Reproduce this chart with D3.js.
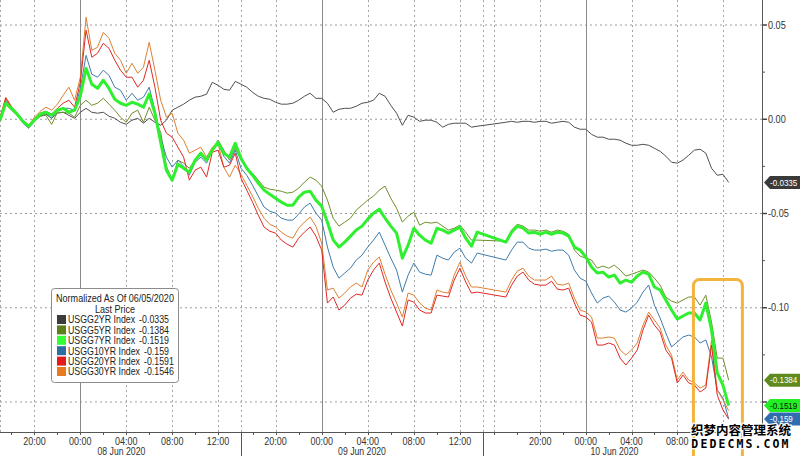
<!DOCTYPE html>
<html><head><meta charset="utf-8">
<script src="https://cdn.jsdelivr.net/npm/d3@7"></script>
<style>
body{margin:0;background:#fff;}
svg{display:block;}
text{font-family:"Liberation Sans",Arial,sans-serif;}
</style></head><body>
<svg id="c" width="800" height="456"></svg>
<script>
// ---- data ----
const sessions = [["2020-06-07T17:00Z","2020-06-08T13:30Z"],["2020-06-08T17:00Z","2020-06-09T13:30Z"],["2020-06-09T17:00Z","2020-06-10T12:30Z"]];
const axisBreaks = ["2020-06-07T17:00Z","2020-06-08T14:00Z","2020-06-08T17:00Z","2020-06-09T14:00Z","2020-06-09T15:00Z","2020-06-10T15:25Z"];
const xTickTimes = ["2020-06-07T20:00Z","2020-06-08T00:00Z","2020-06-08T04:00Z","2020-06-08T08:00Z","2020-06-08T12:00Z","2020-06-08T20:00Z","2020-06-09T00:00Z","2020-06-09T04:00Z","2020-06-09T08:00Z","2020-06-09T12:00Z","2020-06-09T20:00Z","2020-06-10T00:00Z","2020-06-10T04:00Z","2020-06-10T08:00Z"];
const xExtraGrid = ["2020-06-07T17:00Z","2020-06-08T14:00Z","2020-06-09T14:00Z","2020-06-09T16:00Z","2020-06-10T12:00Z"];
const dateLabels = [["2020-06-08T03:35Z","08 Jun 2020"],["2020-06-09T03:30Z","09 Jun 2020"],["2020-06-10T02:30Z","10 Jun 2020"]];
const yTicks = [0.05, 0.00, -0.05, -0.10, -0.15];
const yTickLabels = ["0.05","0.00","-0.05","-0.10"];
const yMinorTicks = [0.025, -0.025, -0.075, -0.125];
const seriesNames = ["USGG2YR Index","USGG5YR Index","USGG7YR Index","USGG10YR Index","USGG20YR Index","USGG30YR Index"];
const legendTitle = ["Normalized As Of 06/05/2020","Last Price"];
const highlightWindow = ["2020-06-10T09:25Z","2020-06-10T13:42Z"];
const highlightTop = -0.085;
const watermark = ["织梦内容管理系统","DEDECMS.COM"];

const usgg2 = [
-0.0005,0.0080,0.0053,0.0021,-0.0016,-0.0037,-0.0011,0.0016,0.0027,0.0005,0.0032,0.0037,0.0021,0.0005,0.0037,0.0058,0.0037,0.0032,0.0037,0.0016,0.0005,-0.0016,-0.0027,-0.0005,0.0005,-0.0021,0.0005,-0.0016,-0.0032,-0.0005,0.0048,0.0064,0.0080,0.0101,0.0117,0.0122,0.0133,0.0196,0.0180,0.0159,0.0154,0.0201,
0.0186,0.0170,0.0143,0.0122,0.0111,0.0106,0.0090,0.0080,0.0080,0.0085,0.0101,0.0122,0.0138,0.0111,0.0111,0.0085,0.0037,0.0053,0.0058,0.0058,0.0069,0.0085,0.0090,0.0101,0.0138,0.0122,0.0074,0.0032,-0.0032,0.0021,0.0011,-0.0011,-0.0005,-0.0005,-0.0016,-0.0042,-0.0027,-0.0021,-0.0021,-0.0021,-0.0042,-0.0037,
-0.0016,-0.0011,-0.0016,-0.0011,-0.0011,-0.0016,-0.0011,-0.0011,-0.0021,-0.0016,-0.0011,-0.0016,-0.0042,-0.0053,-0.0053,-0.0080,-0.0095,-0.0095,-0.0106,-0.0106,-0.0111,-0.0127,-0.0138,-0.0138,-0.0133,-0.0138,-0.0154,-0.0170,-0.0196,-0.0228,-0.0233,-0.0217,-0.0191,-0.0164,-0.0159,-0.0180,-0.0260,-0.0297,-0.0292,-0.0335];
const usgg5 = [
-0.0011,0.0080,0.0048,0.0021,-0.0016,-0.0042,-0.0011,0.0016,0.0021,-0.0027,0.0037,0.0037,0.0032,0.0011,0.0074,0.0101,0.0074,0.0085,0.0111,0.0080,0.0048,0.0011,-0.0016,0.0032,0.0048,-0.0016,0.0064,-0.0005,-0.0069,-0.0249,-0.0323,-0.0217,-0.0233,-0.0260,-0.0217,-0.0191,-0.0217,-0.0164,-0.0111,-0.0164,-0.0217,-0.0154,
-0.0217,-0.0260,-0.0286,-0.0323,-0.0360,-0.0371,-0.0376,-0.0382,-0.0392,-0.0387,-0.0366,-0.0334,-0.0307,-0.0323,-0.0355,-0.0429,-0.0525,-0.0567,-0.0546,-0.0525,-0.0482,-0.0456,-0.0429,-0.0408,-0.0376,-0.0355,-0.0419,-0.0472,-0.0546,-0.0514,-0.0493,-0.0562,-0.0546,-0.0551,-0.0546,-0.0567,-0.0588,-0.0578,-0.0562,-0.0599,-0.0641,-0.0641,
-0.0647,-0.0588,-0.0557,-0.0567,-0.0588,-0.0588,-0.0594,-0.0588,-0.0599,-0.0588,-0.0594,-0.0610,-0.0694,-0.0726,-0.0737,-0.0747,-0.0790,-0.0779,-0.0790,-0.0774,-0.0800,-0.0832,-0.0822,-0.0811,-0.0800,-0.0811,-0.0843,-0.0880,-0.0943,-0.0965,-0.0975,-0.0959,-0.0943,-0.0943,-0.0986,-0.0933,-0.1076,-0.1267,-0.1267,-0.1384];
const usgg7 = [
-0.0005,0.0085,0.0058,0.0027,-0.0011,-0.0037,-0.0005,0.0027,0.0037,0.0021,0.0048,0.0058,0.0037,0.0048,0.0122,0.0270,0.0186,0.0164,0.0207,0.0164,0.0106,0.0085,0.0074,0.0090,0.0080,0.0064,0.0133,0.0032,-0.0122,-0.0270,-0.0323,-0.0239,-0.0260,-0.0281,-0.0217,-0.0180,-0.0217,-0.0164,-0.0122,-0.0180,-0.0201,-0.0127,
-0.0207,-0.0260,-0.0297,-0.0339,-0.0376,-0.0398,-0.0419,-0.0440,-0.0456,-0.0456,-0.0413,-0.0387,-0.0382,-0.0429,-0.0461,-0.0546,-0.0641,-0.0678,-0.0652,-0.0620,-0.0588,-0.0567,-0.0530,-0.0498,-0.0477,-0.0525,-0.0567,-0.0604,-0.0737,-0.0668,-0.0578,-0.0615,-0.0641,-0.0657,-0.0578,-0.0588,-0.0604,-0.0588,-0.0572,-0.0631,-0.0673,-0.0599,
-0.0652,-0.0599,-0.0567,-0.0578,-0.0604,-0.0599,-0.0610,-0.0599,-0.0610,-0.0599,-0.0604,-0.0620,-0.0678,-0.0694,-0.0731,-0.0784,-0.0816,-0.0811,-0.0837,-0.0827,-0.0869,-0.0853,-0.0864,-0.0832,-0.0811,-0.0822,-0.0890,-0.0906,-0.0959,-0.1012,-0.1060,-0.1044,-0.1028,-0.1028,-0.1065,-0.0975,-0.1118,-0.1346,-0.1410,-0.1519];
const usgg10 = [
0.0000,0.0101,0.0058,0.0021,-0.0021,-0.0048,-0.0011,0.0021,0.0032,0.0005,0.0048,0.0058,0.0058,0.0048,0.0164,0.0339,0.0239,0.0223,0.0260,0.0233,0.0170,0.0154,0.0101,0.0138,0.0101,0.0117,0.0170,0.0048,-0.0095,-0.0201,-0.0254,-0.0217,-0.0249,-0.0297,-0.0228,-0.0201,-0.0233,-0.0164,-0.0127,-0.0196,-0.0233,-0.0164,
-0.0260,-0.0297,-0.0350,-0.0408,-0.0466,-0.0488,-0.0498,-0.0525,-0.0535,-0.0535,-0.0504,-0.0466,-0.0445,-0.0498,-0.0535,-0.0678,-0.0784,-0.0843,-0.0816,-0.0790,-0.0747,-0.0721,-0.0678,-0.0641,-0.0599,-0.0668,-0.0737,-0.0800,-0.0917,-0.0827,-0.0763,-0.0811,-0.0822,-0.0827,-0.0721,-0.0737,-0.0747,-0.0705,-0.0684,-0.0737,-0.0763,-0.0710,
-0.0747,-0.0694,-0.0652,-0.0652,-0.0684,-0.0694,-0.0694,-0.0689,-0.0700,-0.0694,-0.0694,-0.0721,-0.0800,-0.0843,-0.0859,-0.0922,-0.0975,-0.0949,-0.0938,-0.0970,-0.1012,-0.1023,-0.1002,-0.0970,-0.0917,-0.0880,-0.0986,-0.1055,-0.1134,-0.1208,-0.1182,-0.1155,-0.1145,-0.1155,-0.1187,-0.1171,-0.1261,-0.1436,-0.1479,-0.1590];
const usgg20 = [
0.0005,0.0111,0.0064,0.0027,-0.0016,-0.0042,0.0000,0.0032,0.0042,0.0027,0.0058,0.0085,0.0101,0.0064,0.0196,0.0472,0.0329,0.0350,0.0403,0.0376,0.0313,0.0260,0.0223,0.0223,0.0170,0.0207,0.0313,0.0170,-0.0005,-0.0074,-0.0095,-0.0148,-0.0201,-0.0323,-0.0270,-0.0254,-0.0307,-0.0175,-0.0164,-0.0254,-0.0244,-0.0180,
-0.0313,-0.0376,-0.0440,-0.0509,-0.0572,-0.0594,-0.0604,-0.0641,-0.0663,-0.0678,-0.0631,-0.0599,-0.0572,-0.0620,-0.0694,-0.0975,-0.0943,-0.1012,-0.0986,-0.0949,-0.0928,-0.0933,-0.0853,-0.0800,-0.0763,-0.0864,-0.0949,-0.1023,-0.1097,-0.0959,-0.0970,-0.1012,-0.1028,-0.1028,-0.0933,-0.0938,-0.0943,-0.0853,-0.0790,-0.0864,-0.0922,-0.0917,
-0.0943,-0.0880,-0.0832,-0.0811,-0.0853,-0.0875,-0.0880,-0.0880,-0.0859,-0.0901,-0.0906,-0.0896,-0.0975,-0.1039,-0.1049,-0.1076,-0.1198,-0.1198,-0.1187,-0.1198,-0.1267,-0.1304,-0.1267,-0.1224,-0.1118,-0.1039,-0.1092,-0.1129,-0.1224,-0.1267,-0.1399,-0.1357,-0.1399,-0.1410,-0.1447,-0.1426,-0.1198,-0.1463,-0.1542,-0.1591];
const usgg30 = [
0.0011,0.0117,0.0069,0.0032,-0.0005,-0.0032,0.0011,0.0042,0.0064,0.0048,0.0080,0.0127,0.0170,0.0101,0.0223,0.0541,0.0366,0.0382,0.0461,0.0429,0.0350,0.0313,0.0244,0.0297,0.0244,0.0276,0.0408,0.0260,0.0101,0.0011,0.0032,-0.0074,-0.0111,-0.0180,-0.0164,-0.0148,-0.0201,-0.0148,-0.0127,-0.0254,-0.0307,-0.0244,
-0.0292,-0.0350,-0.0408,-0.0472,-0.0525,-0.0557,-0.0572,-0.0599,-0.0620,-0.0631,-0.0578,-0.0546,-0.0519,-0.0567,-0.0657,-0.0906,-0.0896,-0.0949,-0.0922,-0.0890,-0.0869,-0.0890,-0.0800,-0.0758,-0.0731,-0.0822,-0.0906,-0.0975,-0.1049,-0.0922,-0.0933,-0.0975,-0.1002,-0.1012,-0.0906,-0.0917,-0.0922,-0.0827,-0.0758,-0.0832,-0.0890,-0.0890,
-0.0917,-0.0853,-0.0806,-0.0790,-0.0832,-0.0853,-0.0853,-0.0853,-0.0832,-0.0875,-0.0880,-0.0869,-0.0949,-0.1012,-0.1023,-0.1049,-0.1161,-0.1161,-0.1155,-0.1161,-0.1224,-0.1251,-0.1224,-0.1187,-0.1092,-0.1023,-0.1065,-0.1108,-0.1198,-0.1251,-0.1383,-0.1341,-0.1383,-0.1399,-0.1426,-0.1410,-0.1171,-0.1436,-0.1489,-0.1546];

// ---- styles ----
const lineColors = ["#505050","#6e8f2a","#2ef02e","#3f7bab","#e02828","#df8030"];
const swatchColors = ["#3c3c3c","#5d7f1c","#33ff33","#2f6ea5","#e31b1b","#ea7a20"];
const lineWidths = [1,1,3,1,1,1];
const drawOrder = [0,1,3,5,4,2];

const seriesValues = [usgg2,usgg5,usgg7,usgg10,usgg20,usgg30];
const times = sessions.flatMap(([a,b]) => d3.utcMinute.every(30).range(new Date(a), new Date(+new Date(b)+1000)));

const svg = d3.select("#c");
const W = 800, H = 456, plotRight = 762, plotBottom = 432;
const x = d3.scaleUtc().domain(axisBreaks.map(d => new Date(d))).range([0,241,241,483,483,plotRight]);
const y = d3.scaleLinear().domain([0.05,-0.15]).range([25,402]);

// narrow-font emulation: text placed via translate + horizontal scale
function ntext(g, px, py, str, size, f, anchor, fill){
  return g.append("text")
    .attr("transform",`translate(${px},${py}) scale(${f},1)`)
    .attr("text-anchor",anchor||"start").attr("font-size",size).attr("fill",fill||"#333").text(str);
}

svg.append("rect").attr("width",W).attr("height",H).attr("fill","#fff");

// grid
const grid = svg.append("g");
grid.selectAll("line.h").data(yTicks).join("line")
  .attr("x1",0).attr("x2",plotRight).attr("y1",d=>y(d)).attr("y2",d=>y(d))
  .attr("stroke","#9c9c9c").attr("stroke-dasharray","2,3");
const vGrid = xTickTimes.concat(xExtraGrid).map(d=>new Date(d));
grid.selectAll("line.v").data(vGrid).join("line")
  .attr("x1",d=>Math.round(x(d))+0.5).attr("x2",d=>Math.round(x(d))+0.5)
  .attr("y1",0).attr("y2",plotBottom)
  .attr("stroke",d=>d.getUTCHours()===0?"#8a8a8a":"#a6a6a6")
  .attr("stroke-dasharray",d=>d.getUTCHours()===0?null:"2,3");

// lines
const lineGen = d3.line().x(d=>x(d.t)).y(d=>y(d.v));
const lg = svg.append("g");
drawOrder.forEach(i => {
  const data = times.map((t,k)=>({t, v: seriesValues[i][k]}));
  lg.append("path").datum(data).attr("d",lineGen)
    .attr("fill","none").attr("stroke",lineColors[i]).attr("stroke-width",lineWidths[i])
    .attr("stroke-linejoin","round");
});

// x axis
const ax = svg.append("g");
ax.append("line").attr("x1",0).attr("x2",plotRight).attr("y1",plotBottom+0.5).attr("y2",plotBottom+0.5).attr("stroke","#555");
const minorX = d3.utcHour.every(2).range(new Date(axisBreaks[0]), new Date(axisBreaks[5]))
  .filter(t => (t < new Date(axisBreaks[1])) || (t >= new Date(axisBreaks[2]) && t < new Date(axisBreaks[3])) || (t >= new Date(axisBreaks[4])));
ax.selectAll("line.mt").data(minorX).join("line")
  .attr("x1",d=>Math.round(x(d))+0.5).attr("x2",d=>Math.round(x(d))+0.5)
  .attr("y1",plotBottom).attr("y2",plotBottom+3).attr("stroke","#555");
[axisBreaks[1], axisBreaks[3]].forEach(b => {
  ax.append("line").attr("x1",Math.round(x(new Date(b)))+0.5).attr("x2",Math.round(x(new Date(b)))+0.5)
    .attr("y1",plotBottom).attr("y2",H).attr("stroke","#555");
});
const fmt = d3.utcFormat("%H:%M");
xTickTimes.forEach(s => { const d = new Date(s); ntext(ax, x(d), 444.5, fmt(d), 10, 0.9, "middle"); });
dateLabels.forEach(d => ntext(ax, x(new Date(d[0])), 455, d[1], 10, 0.87, "middle"));

// y axis (right)
const ay = svg.append("g");
ay.append("line").attr("x1",plotRight+0.5).attr("x2",plotRight+0.5).attr("y1",0).attr("y2",plotBottom).attr("stroke","#555");
ay.selectAll("line.mj").data(yTicks).join("line")
  .attr("x1",plotRight).attr("x2",plotRight+5).attr("y1",d=>y(d)).attr("y2",d=>y(d)).attr("stroke","#444").attr("stroke-width",1.5);
ay.selectAll("line.mn").data(yMinorTicks).join("line")
  .attr("x1",plotRight).attr("x2",plotRight+3).attr("y1",d=>y(d)).attr("y2",d=>y(d)).attr("stroke","#555");
yTickLabels.forEach((s,i) => ntext(ay, plotRight+6, y(yTicks[i])+3.7, s, 10.5, 0.87, "start"));

// highlight box
svg.append("rect")
  .attr("x",x(new Date(highlightWindow[0]))).attr("y",y(highlightTop))
  .attr("width",x(new Date(highlightWindow[1]))-x(new Date(highlightWindow[0])))
  .attr("height",H+20-y(highlightTop)).attr("rx",6)
  .attr("fill","none").attr("stroke","#f2b43e").attr("stroke-width",3);

// end tags
const tagFill = ["#3a3a3a","#5f8a1e","#22ee22","#2f6db0"];
const tagText = ["#fff","#fff","#111","#fff"];
const tagOrder = [0,1,3,2];
const tg = svg.append("g");
tagOrder.forEach(i => {
  const v = seriesValues[i][seriesValues[i].length-1];
  const cy = y(v), h = 13, x0 = plotRight+2;
  tg.append("path")
    .attr("d",`M${x0},${cy} L${x0+6},${cy-h/2} L${W},${cy-h/2} L${W},${cy+h/2} L${x0+6},${cy+h/2} Z`)
    .attr("fill",tagFill[i]);
  ntext(tg, x0+6, cy+3.2, d3.format(".4~f")(v).replace("−","-"), 9.5, 0.85, "start", tagText[i]);
});

// legend
const L = svg.append("g");
const lx = 51, ly = 288;
L.append("rect").attr("x",lx+0.5).attr("y",ly+0.5).attr("width",127).attr("height",94).attr("rx",3)
  .attr("fill","#fff").attr("stroke","#8c8c8c");
ntext(L, lx+64, ly+14, legendTitle[0], 10.5, 0.86, "middle", "#222");
ntext(L, lx+64, ly+25, legendTitle[1], 10.5, 0.86, "middle", "#222");
seriesNames.forEach((n,i) => {
  const ry = ly + 31.5 + i*10.4;
  L.append("rect").attr("x",lx+6).attr("y",ry-4.5).attr("width",9).attr("height",9).attr("fill",swatchColors[i]);
  const t = ntext(L, lx+17, ry+3.8, n, 10.5, 0.84, "start", "#222");
  const end = lx + 17 + t.node().getComputedTextLength()*0.84;
  const v = seriesValues[i][seriesValues[i].length-1];
  ntext(L, Math.max(end+4, lx+86), ry+3.8, d3.format(".4~f")(v).replace("−","-"), 10.5, 0.84, "start", "#222");
});

// watermark
const wm = svg.append("g").attr("font-weight","bold").attr("fill","#000")
  .attr("stroke","#fff").attr("stroke-width",2.5).attr("paint-order","stroke");
wm.append("text").attr("x",741).attr("y",435).attr("text-anchor","middle")
  .attr("font-size",12.5).style("font-family","'Noto Sans CJK SC',sans-serif").text(watermark[0]);
wm.append("text").attr("x",741).attr("y",448).attr("text-anchor","middle")
  .attr("font-size",11.5).attr("letter-spacing",2.1).style("font-family","'DejaVu Sans Mono',monospace").text(watermark[1]);
</script>
</body></html>
